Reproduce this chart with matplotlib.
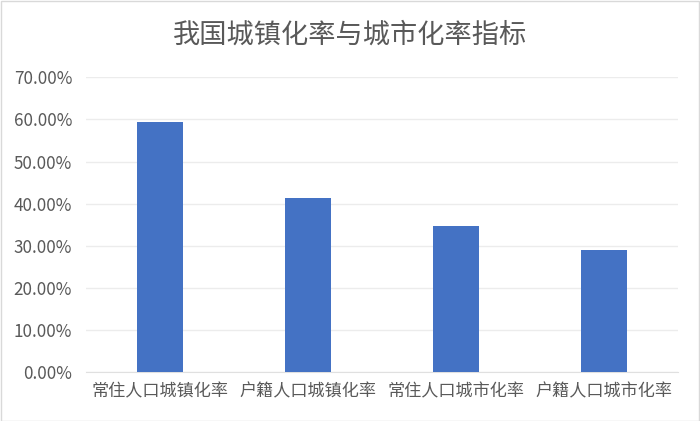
import matplotlib
matplotlib.use("Agg")
import matplotlib.pyplot as plt
from matplotlib.ticker import FuncFormatter, MultipleLocator
from matplotlib.patches import Rectangle

categories = ["常住人口城镇化率", "户籍人口城镇化率", "常住人口城市化率", "户籍人口城市化率"]
values = [0.594, 0.414, 0.348, 0.290]
title = "我国城镇化率与城市化率指标"

plt.rcParams['font.family'] = ['Noto Sans CJK SC', 'DejaVu Sans']
text_color = "#595959"

fig = plt.figure(figsize=(7, 4.21), dpi=100)
ax = fig.add_axes([86/700, 1-372.3/421, (678-86)/700, (372.3-77.3)/421])

x = list(range(len(categories)))
ax.bar(x, values, width=0.315, color="#4472C4", zorder=3)
ax.set_xlim(-0.5, len(categories)-0.5)
ax.set_ylim(0, 0.70)
ax.yaxis.set_major_locator(MultipleLocator(0.10))
ax.yaxis.set_major_formatter(FuncFormatter(lambda v, p: f"{v*100:.2f}%"))
ax.set_xticks(x)
ax.set_xticklabels(categories)
ax.grid(axis='y', color="#ececec", linewidth=1, zorder=0)
for s in ['top', 'right', 'left']:
    ax.spines[s].set_visible(False)
ax.spines['bottom'].set_color("#e0e0e0")
ax.tick_params(axis='both', length=0, colors=text_color, labelsize=12.3)
ax.tick_params(axis='y', pad=10)
ax.tick_params(axis='x', pad=7)

fig.text(0.5, 1-35.5/421, title, ha='center', va='center', fontsize=19.6, color=text_color)
fig.patches.append(Rectangle((0.001, 0.001), 0.997, 0.997, transform=fig.transFigure,
                             fill=False, edgecolor="#d9d9d9", linewidth=1))
fig.savefig("out.png", dpi=100)
